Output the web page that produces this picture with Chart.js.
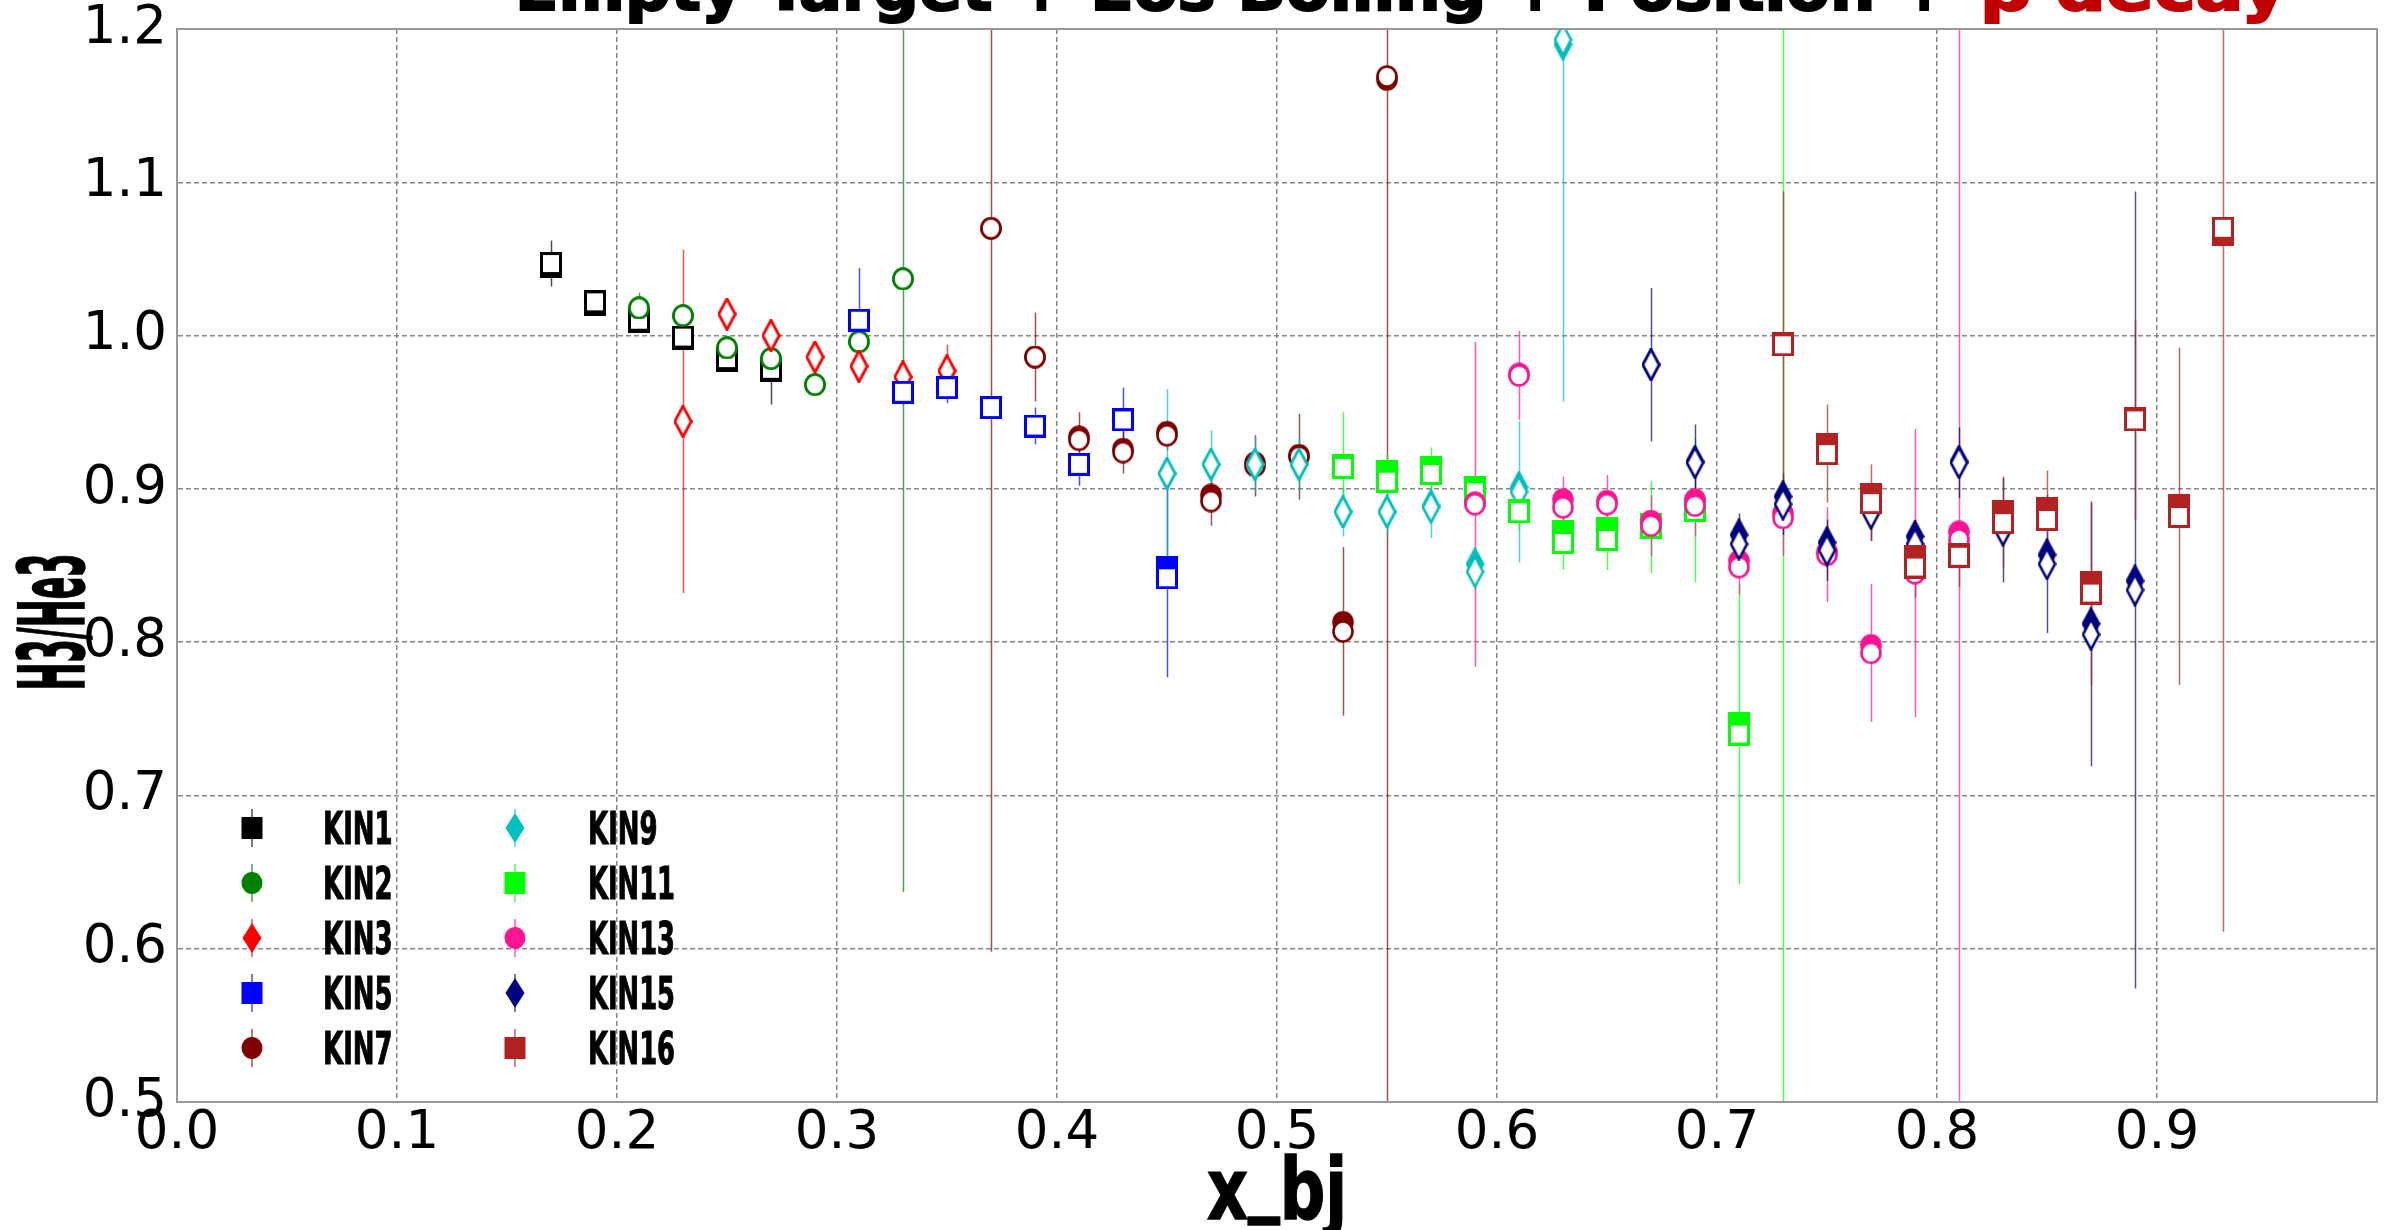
<!DOCTYPE html>
<html>
<head>
<meta charset="utf-8">
<title>H3/He3 vs x_bj</title>
<script src="https://cdn.jsdelivr.net/npm/chart.js@4.4.0/dist/chart.umd.min.js"></script>
<style>
  html, body { margin: 0; padding: 0; background: #fff; overflow: hidden; }
  #wrap { position: relative; width: 2395px; height: 1230px; }
  #chart { position: absolute; left: 0; top: 0; }
  #overlay { position: absolute; left: 0; top: 0; pointer-events: none; }
  .narrow { font-family: "Liberation Sans Narrow", "DejaVu Sans Condensed", "Liberation Sans", sans-serif; font-weight: bold; }
</style>
</head>
<body>
<div id="wrap">
  <canvas id="chart" width="2395" height="1230"></canvas>
  <svg id="overlay" width="2395" height="1230" xmlns="http://www.w3.org/2000/svg"></svg>
</div>
<script>
/* ── data: x_bj, ratio (open markers), ratio (filled markers), error ── */
const xKIN1 = [0.17, 0.19, 0.21, 0.23, 0.25, 0.27];
const yKIN1 = [1.047, 1.022, 1.010, 0.999, 0.985, 0.978];
const fKIN1 = [1.045, 1.020, 1.009, 0.998, 0.984, 0.977];
const eKIN1 = [0.015, 0.006, 0.006, 0.008, 0.008, 0.023];

const xKIN2 = [0.21, 0.23, 0.25, 0.27, 0.29, 0.31, 0.33];
const yKIN2 = [1.018, 1.013, 0.992, 0.985, 0.968, 0.996, 1.037];
const fKIN2 = [1.018, 1.013, 0.992, 0.985, 0.968, 0.996, 1.037];
const eKIN2 = [0.010, 0.006, 0.006, 0.006, 0.006, 0.006, 0.400];

const xKIN3 = [0.23, 0.25, 0.27, 0.29, 0.31, 0.33, 0.35];
const yKIN3 = [0.944, 1.014, 1.000, 0.986, 0.980, 0.973, 0.977];
const fKIN3 = [0.944, 1.014, 1.000, 0.986, 0.980, 0.973, 0.977];
const eKIN3 = [0.112, 0.008, 0.010, 0.010, 0.008, 0.008, 0.017];

const xKIN5 = [0.31, 0.33, 0.35, 0.37, 0.39, 0.41, 0.43, 0.45];
const yKIN5 = [1.010, 0.963, 0.966, 0.953, 0.941, 0.916, 0.945, 0.842];
const fKIN5 = [1.010, 0.963, 0.966, 0.953, 0.941, 0.916, 0.945, 0.849];
const eKIN5 = [0.034, 0.008, 0.010, 0.006, 0.012, 0.014, 0.021, 0.065];

const xKIN7 = [0.37, 0.39, 0.41, 0.43, 0.45, 0.47, 0.49, 0.51, 0.53, 0.55];
const yKIN7 = [1.070, 0.986, 0.932, 0.924, 0.935, 0.892, 0.915, 0.921, 0.807, 1.169];
const fKIN7 = [1.070, 0.986, 0.934, 0.926, 0.937, 0.896, 0.917, 0.922, 0.813, 1.167];
const eKIN7 = [0.472, 0.029, 0.018, 0.014, 0.010, 0.016, 0.020, 0.028, 0.055, 0.700];

const xKIN9 = [0.45, 0.47, 0.49, 0.51, 0.53, 0.55, 0.57, 0.59, 0.61, 0.63];
const yKIN9 = [0.910, 0.916, 0.916, 0.916, 0.885, 0.885, 0.888, 0.846, 0.898, 1.193];
const fKIN9 = [0.910, 0.916, 0.916, 0.916, 0.885, 0.885, 0.889, 0.851, 0.901, 1.190];
const eKIN9 = [0.055, 0.022, 0.018, 0.018, 0.016, 0.016, 0.020, 0.012, 0.046, 0.236];

const xKIN11 = [0.53, 0.55, 0.57, 0.59, 0.61, 0.63, 0.65, 0.67, 0.69, 0.71, 0.73];
const yKIN11 = [0.914, 0.905, 0.910, 0.898, 0.885, 0.865, 0.867, 0.875, 0.886, 0.740, 1.300];
const fKIN11 = [0.915, 0.911, 0.914, 0.901, 0.886, 0.872, 0.874, 0.877, 0.887, 0.747, 1.300];
const eKIN11 = [0.036, 0.018, 0.017, 0.010, 0.012, 0.018, 0.020, 0.030, 0.047, 0.098, 0.850];

const xKIN13 = [0.59, 0.61, 0.63, 0.65, 0.67, 0.69, 0.71, 0.73, 0.75, 0.77, 0.79, 0.81];
const yKIN13 = [0.890, 0.974, 0.888, 0.890, 0.876, 0.889, 0.849, 0.881, 0.857, 0.793, 0.845, 0.867];
const fKIN13 = [0.891, 0.975, 0.893, 0.892, 0.879, 0.893, 0.853, 0.884, 0.859, 0.798, 0.846, 0.872];
const eKIN13 = [0.106, 0.029, 0.020, 0.019, 0.020, 0.020, 0.018, 0.025, 0.031, 0.045, 0.094, 0.450];

const xKIN15 = [0.67, 0.69, 0.71, 0.73, 0.75, 0.77, 0.79, 0.81, 0.83, 0.85, 0.87, 0.89];
const yKIN15 = [0.981, 0.917, 0.864, 0.890, 0.860, 0.884, 0.864, 0.917, 0.873, 0.851, 0.805, 0.834];
const fKIN15 = [0.981, 0.918, 0.870, 0.895, 0.865, 0.886, 0.869, 0.918, 0.876, 0.857, 0.812, 0.840];
const eKIN15 = [0.050, 0.025, 0.020, 0.020, 0.020, 0.018, 0.016, 0.023, 0.034, 0.045, 0.086, 0.260];

const xKIN16 = [0.73, 0.75, 0.77, 0.79, 0.81, 0.83, 0.85, 0.87, 0.89, 0.91, 0.93];
const yKIN16 = [0.994, 0.923, 0.891, 0.849, 0.856, 0.878, 0.880, 0.832, 0.945, 0.882, 1.070];
const fKIN16 = [0.995, 0.929, 0.896, 0.856, 0.857, 0.885, 0.887, 0.839, 0.946, 0.889, 1.066];
const eKIN16 = [0.100, 0.032, 0.025, 0.020, 0.020, 0.030, 0.032, 0.060, 0.065, 0.110, 0.459];

const xTicks = [0.0, 0.1, 0.2, 0.3, 0.4, 0.5, 0.6, 0.7, 0.8, 0.9];
const yTicks = [0.5, 0.6, 0.7, 0.8, 0.9, 1.0, 1.1, 1.2];

const titleMain  = "Empty Target + Eos Boiling + Position +";
const titleRed   = "β decay";
const xTitle = ["x", "_", "bj"];
const yTitle = "H3/He3";

/* ── series config (style only) ─────────────────────────────── */
const series = [
    { name: "KIN1",  color: "#000000", shape: "s", x: xKIN1,  y: yKIN1,  f: fKIN1,  e: eKIN1 },
    { name: "KIN2",  color: "#008000", shape: "o", x: xKIN2,  y: yKIN2,  f: fKIN2,  e: eKIN2 },
    { name: "KIN3",  color: "#ff0000", shape: "d", x: xKIN3,  y: yKIN3,  f: fKIN3,  e: eKIN3 },
    { name: "KIN5",  color: "#0000ff", shape: "s", x: xKIN5,  y: yKIN5,  f: fKIN5,  e: eKIN5 },
    { name: "KIN7",  color: "#800000", shape: "o", x: xKIN7,  y: yKIN7,  f: fKIN7,  e: eKIN7 },
    { name: "KIN9",  color: "#00bfbf", shape: "d", x: xKIN9,  y: yKIN9,  f: fKIN9,  e: eKIN9 },
    { name: "KIN11", color: "#00ff00", shape: "s", x: xKIN11, y: yKIN11, f: fKIN11, e: eKIN11 },
    { name: "KIN13", color: "#ff1493", shape: "o", x: xKIN13, y: yKIN13, f: fKIN13, e: eKIN13 },
    { name: "KIN15", color: "#000080", shape: "d", x: xKIN15, y: yKIN15, f: fKIN15, e: eKIN15 },
    { name: "KIN16", color: "#b22222", shape: "s", x: xKIN16, y: yKIN16, f: fKIN16, e: eKIN16 }
];

function rgba(hex, a) {
    const n = parseInt(hex.slice(1), 16);
    return `rgba(${n >> 16},${(n >> 8) & 255},${n & 255},${a})`;
}

/* ── marker sprites (matplotlib-like s / o / thin d) ─────────── */
function makeMarker(shape, color, filled) {
    const w = shape === "d" ? 19 : 22;
    const h = shape === "d" ? 33 : 23;
    const c = document.createElement("canvas");
    c.width = w; c.height = h;
    const g = c.getContext("2d");
    g.lineWidth = shape === "s" ? 3 : 2.6;
    g.strokeStyle = color;
    g.fillStyle = filled ? color : "#ffffff";
    g.beginPath();
    if (shape === "s") {
        g.rect(1.5, 1.5, w - 3, h - 3);
    } else if (shape === "o") {
        g.ellipse(w / 2, h / 2, w / 2 - 1.5, h / 2 - 1.5, 0, 0, Math.PI * 2);
    } else {
        g.moveTo(w / 2, 1.5);
        g.lineTo(w - 1.5, h / 2);
        g.lineTo(w / 2, h - 1.5);
        g.lineTo(1.5, h / 2);
        g.closePath();
    }
    g.fill();
    g.stroke();
    return c;
}

/* ── datasets: filled marker underneath, open marker on top ─── */
const datasets = [];
series.forEach(s => {
    datasets.push({
        label: s.name + " filled",
        data: s.x.map((xv, i) => ({ x: xv, y: s.f[i] })),
        pointStyle: makeMarker(s.shape, s.color, true),
        pointRadius: 12,
        showLine: false
    });
    datasets.push({
        label: s.name,
        data: s.x.map((xv, i) => ({ x: xv, y: s.y[i] })),
        errors: s.e,
        errColor: rgba(s.color, 0.7),
        pointStyle: makeMarker(s.shape, s.color, false),
        pointRadius: 12,
        showLine: false
    });
});
// later series drawn on top
datasets.forEach((d, i) => { d.order = -i; });

/* ── plugins: error bars + full frame ───────────────────────── */
const errorBars = {
    id: "errorBars",
    beforeDatasetsDraw(chart) {
        const { ctx, chartArea, scales: { x, y } } = chart;
        ctx.save();
        ctx.beginPath();
        ctx.rect(chartArea.left, chartArea.top, chartArea.width, chartArea.height);
        ctx.clip();
        ctx.lineWidth = 1.5;
        chart.data.datasets.forEach(ds => {
            if (!ds.errors) return;
            ctx.strokeStyle = ds.errColor;
            ds.data.forEach((p, i) => {
                const px = Math.round(x.getPixelForValue(p.x)) + 0.5;
                ctx.beginPath();
                ctx.moveTo(px, y.getPixelForValue(p.y - ds.errors[i]));
                ctx.lineTo(px, y.getPixelForValue(p.y + ds.errors[i]));
                ctx.stroke();
            });
        });
        ctx.restore();
    }
};

const frame = {
    id: "frame",
    afterDatasetsDraw(chart) {
        const { ctx, chartArea: a } = chart;
        ctx.save();
        ctx.strokeStyle = "#999999";
        ctx.lineWidth = 2;
        ctx.strokeRect(a.left, a.top, a.right - a.left, a.bottom - a.top);
        ctx.restore();
    }
};

const tickFont = { family: "DejaVu Sans", size: 53 };
const gridOpts = { color: "#888888", lineWidth: 1.5, drawTicks: false };

function noPad(s) {
    s.paddingTop = 0; s.paddingBottom = 0; s.paddingLeft = 0; s.paddingRight = 0;
}

new Chart(document.getElementById("chart"), {
    type: "scatter",
    data: { datasets },
    options: {
        responsive: false,
        animation: false,
        devicePixelRatio: 1,
        events: [],
        layout: { padding: { left: 0, right: 18, top: 29, bottom: 0 } },
        plugins: { legend: { display: false }, tooltip: { enabled: false }, title: { display: false } },
        scales: {
            x: {
                type: "linear", min: 0, max: 1.0,
                afterFit: s => { s.height = 128; noPad(s); },
                afterBuildTicks: s => { s.ticks = xTicks.concat([1.0]).map(v => ({ value: v })); },
                ticks: {
                    font: tickFont, color: "#000", padding: 0, maxRotation: 0,
                    callback: v => (v > 0.95 ? "" : Number(v).toFixed(1))
                },
                grid: gridOpts,
                border: { color: "#999999", width: 2, dash: [5, 3] }
            },
            y: {
                type: "linear", min: 0.5, max: 1.2,
                afterFit: s => { s.width = 177; noPad(s); },
                afterBuildTicks: s => { s.ticks = yTicks.map(v => ({ value: v })); },
                ticks: {
                    font: tickFont, color: "#000", padding: 10,
                    callback: v => Number(v).toFixed(1)
                },
                grid: gridOpts,
                border: { color: "#999999", width: 2, dash: [5, 3] }
            }
        }
    },
    plugins: [errorBars, frame]
});

/* ── overlay: title, axis titles, legend ────────────────────── */
const NS = "http://www.w3.org/2000/svg";
const svg = document.getElementById("overlay");
function el(tag, attrs, text, parent) {
    const e = document.createElementNS(NS, tag);
    for (const k in attrs) e.setAttribute(k, attrs[k]);
    if (text !== undefined) e.textContent = text;
    (parent || svg).appendChild(e);
    return e;
}

el("text", { x: 515, y: 10, "font-size": 62, class: "narrow", fill: "#000", stroke: "#000", "stroke-width": 2,
             textLength: 1436, lengthAdjust: "spacingAndGlyphs" }, titleMain);
el("text", { x: 1980, y: 10, "font-size": 62, class: "narrow", fill: "#c00000", stroke: "#c00000", "stroke-width": 2,
             textLength: 307, lengthAdjust: "spacingAndGlyphs" }, titleRed);

// x_bj: underscore lifted so it peeks in at the bottom edge like the original
const xt = el("text", { x: 1277, y: 1219, "font-size": 86, class: "narrow", fill: "#000", stroke: "#000", "stroke-width": 1.5,
                        "text-anchor": "middle", textLength: 140, lengthAdjust: "spacingAndGlyphs" });
el("tspan", {}, xTitle[0], xt);
el("tspan", { dy: -14 }, xTitle[1], xt);
el("tspan", { dy: 14 }, xTitle[2], xt);

el("text", { transform: "translate(84,622) rotate(-90)", "font-size": 90, class: "narrow", fill: "#000",
             stroke: "#000", "stroke-width": 1.5,
             "text-anchor": "middle", textLength: 137, lengthAdjust: "spacingAndGlyphs" }, yTitle);

// legend: two columns of five
series.forEach((s, i) => {
    const col = i < 5 ? 0 : 1;
    const row = i % 5;
    const mx = col === 0 ? 252 : 515;
    const my = 828 + row * 55;
    el("line", { x1: mx, y1: my - 19, x2: mx, y2: my + 19, stroke: rgba(s.color, 0.7), "stroke-width": 1.5 });
    if (s.shape === "s") {
        el("rect", { x: mx - 10.5, y: my - 11, width: 21, height: 22, fill: s.color });
    } else if (s.shape === "o") {
        el("ellipse", { cx: mx, cy: my, rx: 10.5, ry: 11, fill: s.color });
    } else {
        el("polygon", { points: `${mx},${my - 15} ${mx + 9.5},${my} ${mx},${my + 15} ${mx - 9.5},${my}`, fill: s.color });
    }
    el("text", { x: col === 0 ? 323 : 588, y: my + 16, "font-size": 44, class: "narrow", fill: "#000",
                 stroke: "#000", "stroke-width": 1,
                 textLength: s.name.length * 17.4, lengthAdjust: "spacingAndGlyphs" }, s.name);
});
</script>
</body>
</html>
